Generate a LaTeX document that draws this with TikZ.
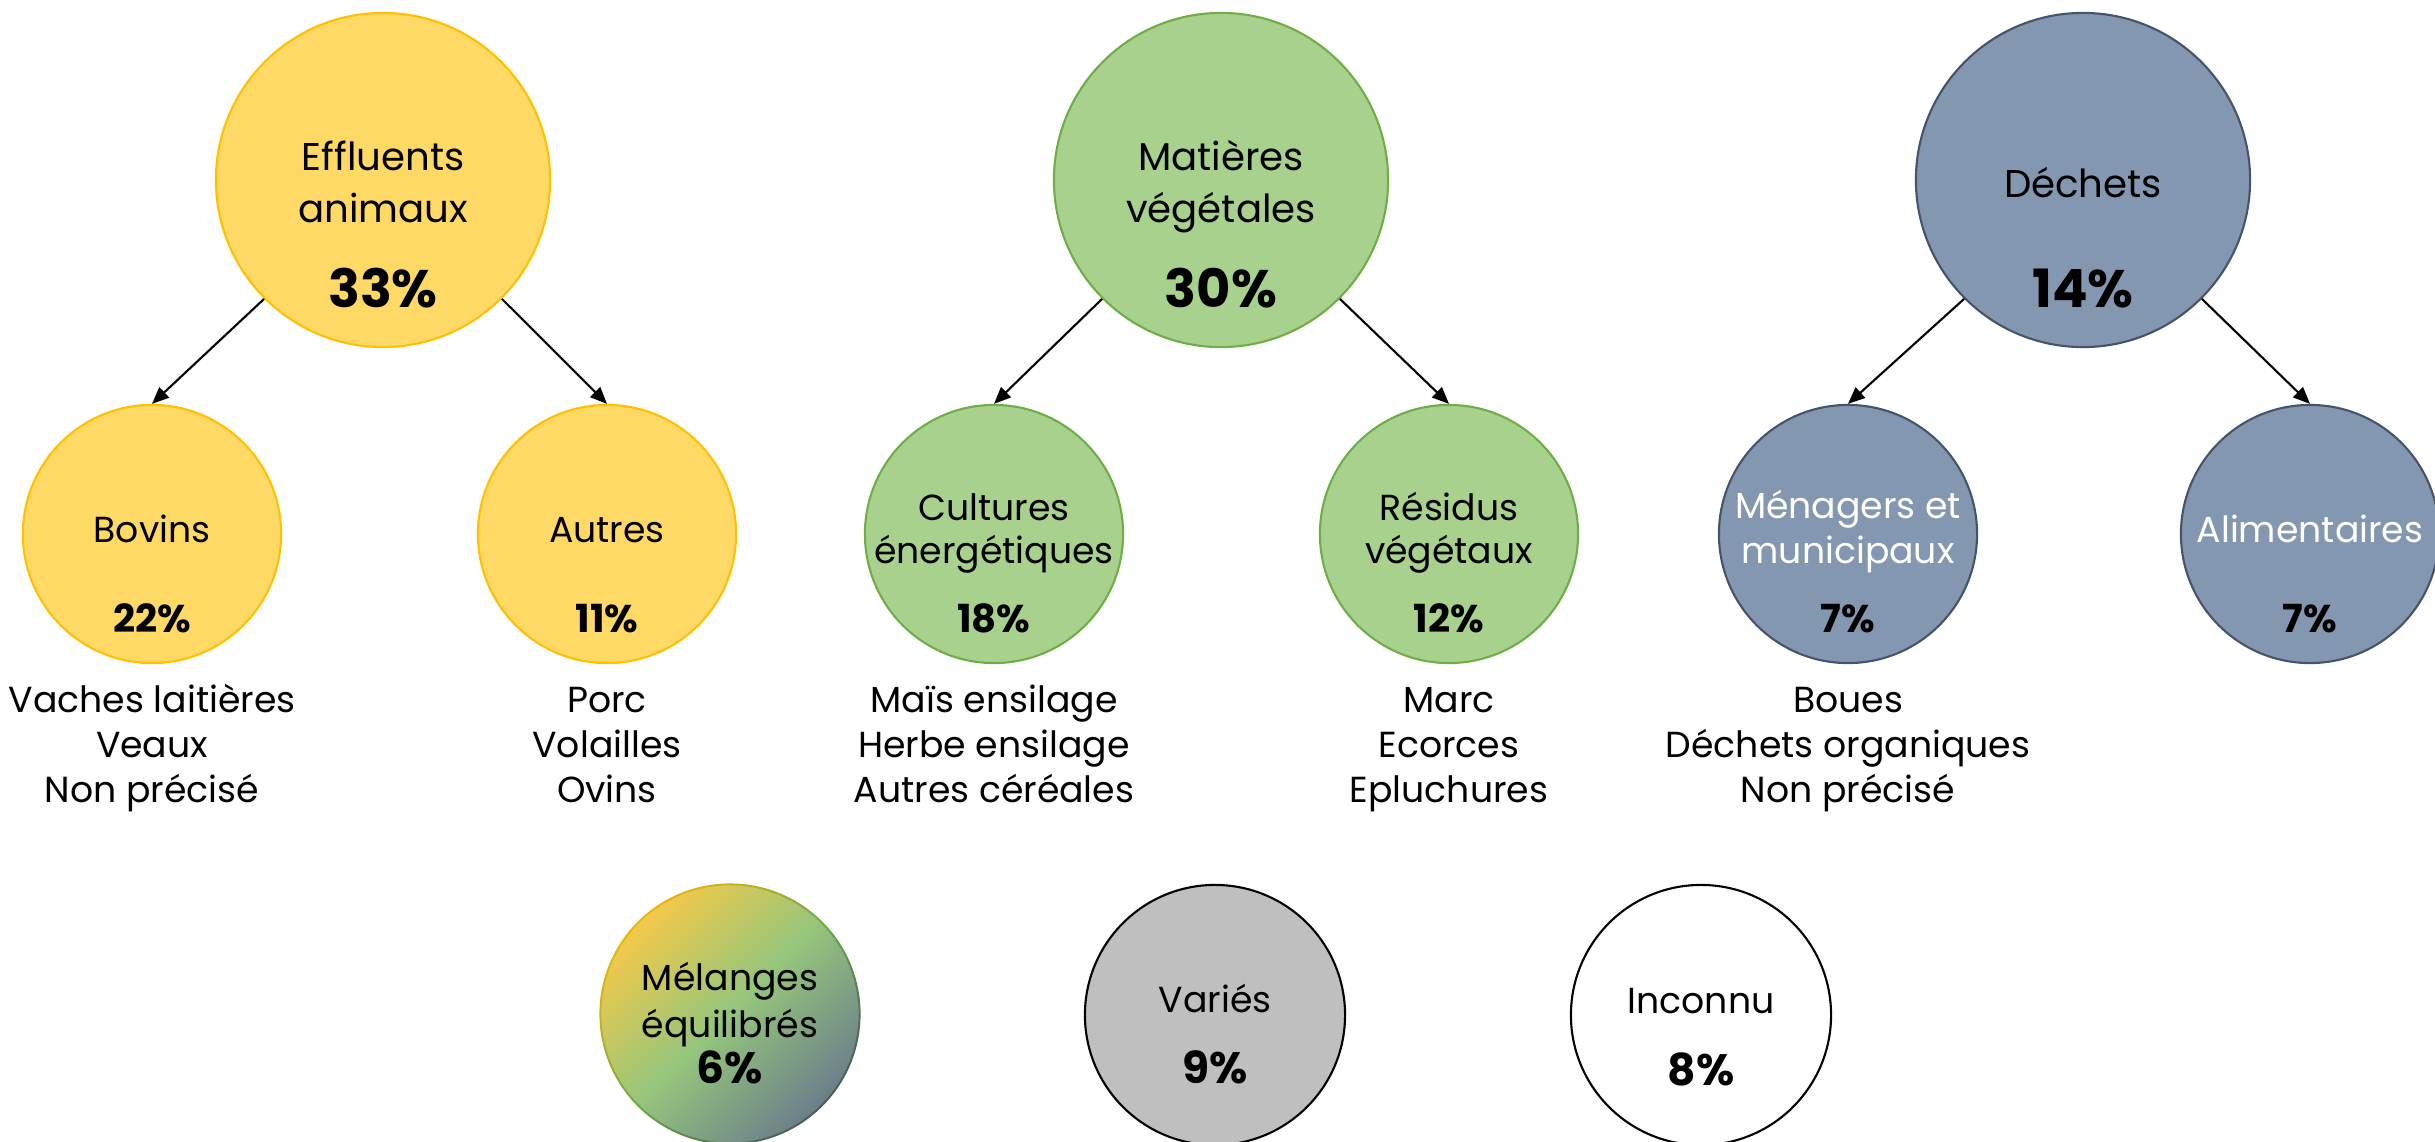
\documentclass[tikz,border=0pt]{standalone}
\usepackage{fontspec}
\setmainfont{Poppins}
\usetikzlibrary{arrows.meta}
\definecolor{yfill}{HTML}{FFD966}
\definecolor{yline}{HTML}{FFC000}
\definecolor{gfill}{HTML}{A9D18E}
\definecolor{gline}{HTML}{70AD47}
\definecolor{bfill}{HTML}{8497B0}
\definecolor{bline}{HTML}{44546A}
\definecolor{grfill}{HTML}{BFBFBF}
\definecolor{mixA}{HTML}{F3C94A}
\definecolor{mixB}{HTML}{94C57C}
\definecolor{mixC}{HTML}{6C7E8A}
\definecolor{mixlA}{HTML}{E6B80F}
\definecolor{mixlB}{HTML}{6FAA46}
\definecolor{mixlC}{HTML}{4A5E5C}
\begin{document}
\begin{tikzpicture}[x=0.01cm,y=-0.01cm,
  big/.style={circle, minimum size=3.34cm, inner sep=0pt, line width=0.6pt},
  mid/.style={circle, minimum size=2.58cm, inner sep=0pt, line width=0.6pt},
  low/.style={circle, minimum size=2.6cm, inner sep=0pt, line width=0.6pt},
  yel/.style={fill=yfill, draw=yline},
  gre/.style={fill=gfill, draw=gline},
  blu/.style={fill=bfill, draw=bline},
  txt/.style={anchor=base, inner sep=0pt, font=\fontsize{10.3}{12}\selectfont},
  bigtxt/.style={anchor=base, inner sep=0pt, font=\fontsize{11}{13}\selectfont},
  pbig/.style={anchor=base, inner sep=0pt, font=\fontsize{15}{18}\selectfont\bfseries},
  pmid/.style={anchor=base, inner sep=0pt, font=\fontsize{11}{13}\selectfont\bfseries},
  plow/.style={anchor=base, inner sep=0pt, font=\fontsize{12.5}{15}\selectfont\bfseries},
  arr/.style={-{Triangle[length=4.8pt,width=4pt]}, line width=0.6pt}]
\useasboundingbox (0,0) rectangle (2435,1142);

% top level
\node[big,yel] (eff) at (383,180) {};
\node[big,gre] (mat) at (1221,180) {};
\node[big,blu] (dec) at (2083,180) {};
\node[bigtxt] (effA) at (383,170) {Effluents};
\node[bigtxt] (effB) at (383,222) {animaux};
\node[pbig] (effP) at (383,307) {33\%};
\node[bigtxt] (matA) at (1221,170) {Matières};
\node[bigtxt] (matB) at (1221,222) {végétales};
\node[pbig] (matP) at (1221,307) {30\%};
\node[bigtxt] (decA) at (2083,197) {Déchets};
\node[pbig] (decP) at (2083,307) {14\%};

% second level
\node[mid,yel] (bov) at (152,534) {};
\node[mid,yel] (aut) at (607,534) {};
\node[mid,gre] (cul) at (994,534) {};
\node[mid,gre] (res) at (1449,534) {};
\node[mid,blu] (men) at (1848,534) {};
\node[mid,blu] (ali) at (2310,534) {};

\node[txt] (bovA) at (152,542) {Bovins};
\node[pmid] (bovP) at (152,632) {22\%};
\node[txt] (autA) at (607,542) {Autres};
\node[pmid] (autP) at (607,632) {11\%};
\node[txt] (culA) at (994,520) {Cultures};
\node[txt] (culB) at (994,563) {énergétiques};
\node[pmid] (culP) at (994,632) {18\%};
\node[txt] (resA) at (1449,520) {Résidus};
\node[txt] (resB) at (1449,563) {végétaux};
\node[pmid] (resP) at (1449,632) {12\%};
\node[txt,text=white] (menA) at (1848,518) {Ménagers et};
\node[txt,text=white] (menB) at (1848,563) {municipaux};
\node[pmid] (menP) at (1848,632) {7\%};
\node[txt,text=white] (aliA) at (2310,542) {Alimentaires};
\node[pmid] (aliP) at (2310,632) {7\%};

% lists
\node[txt] (l1a) at (152,712) {Vaches laitières};
\node[txt] (l1b) at (152,757) {Veaux};
\node[txt] (l1c) at (152,802) {Non précisé};
\node[txt] (l2a) at (607,712) {Porc};
\node[txt] (l2b) at (607,757) {Volailles};
\node[txt] (l2c) at (607,802) {Ovins};
\node[txt] (l3a) at (994,712) {Maïs ensilage};
\node[txt] (l3b) at (994,757) {Herbe ensilage};
\node[txt] (l3c) at (994,802) {Autres céréales};
\node[txt] (l4a) at (1449,712) {Marc};
\node[txt] (l4b) at (1449,757) {Ecorces};
\node[txt] (l4c) at (1449,802) {Epluchures};
\node[txt] (l5a) at (1848,712) {Boues};
\node[txt] (l5b) at (1848,757) {Déchets organiques};
\node[txt] (l5c) at (1848,802) {Non précisé};

% arrows
\draw[arr] (eff.-135) -- (bov.north);
\draw[arr] (eff.-45) -- (aut.north);
\draw[arr] (mat.-135) -- (cul.north);
\draw[arr] (mat.-45) -- (res.north);
\draw[arr] (dec.-135) -- (men.north);
\draw[arr] (dec.-45) -- (ali.north);

% bottom row
\node[low, top color=mixA, bottom color=mixC, middle color=mixB, shading angle=45] (mel) at (730,1014) {};
\shade[even odd rule, top color=mixlA, bottom color=mixlC, middle color=mixlB, shading angle=45]
  (mel.center) circle (1.305cm) circle (1.285cm);
\node[low, fill=grfill, draw=black] (var) at (1215,1015) {};
\node[low, fill=white, draw=black] (inc) at (1701,1015) {};

\node[txt] (melA) at (730,990) {Mélanges};
\node[txt] (melB) at (730,1037) {équilibrés};
\node[plow] (melP) at (730,1083) {6\%};
\node[txt] (varA) at (1215,1012) {Variés};
\node[plow] (varP) at (1215,1083) {9\%};
\node[txt] (incA) at (1701,1013) {Inconnu};
\node[plow] (incP) at (1701,1085) {8\%};
\end{tikzpicture}
\end{document}
